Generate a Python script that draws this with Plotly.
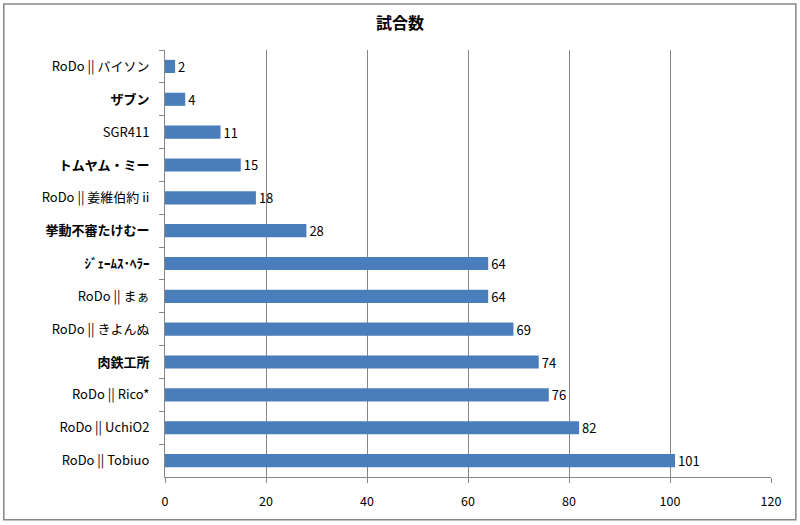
import plotly.graph_objects as go

categories = [
    "RoDo || バイソン", "<b>ザブン</b>", "SGR411", "<b>トムヤム・ミー</b>",
    "RoDo || 姜維伯約 ii", "<b>挙動不審たけむー</b>", "<b>ｼﾞｪｰﾑｽ･ﾍﾗｰ</b>",
    "RoDo || まぁ", "RoDo || きよんぬ", "<b>肉鉄工所</b>", "RoDo || Rico*",
    "RoDo || UchiO2", "RoDo || Tobiuo",
]
values = [2, 4, 11, 15, 18, 28, 64, 64, 69, 74, 76, 82, 101]
x_ticks = [0, 20, 40, 60, 80, 100, 120]

font_family = "Noto Sans CJK JP, Noto Sans, sans-serif"

fig = go.Figure(go.Bar(
    x=values, y=categories, orientation="h",
    marker=dict(color="#4A7EBB", line=dict(width=0)),
    text=[str(v) for v in values], textposition="outside",
    textfont=dict(size=13, color="#000000", family=font_family),
    constraintext="none",
    cliponaxis=False,
))

fig.update_layout(
    width=800, height=525,
    margin=dict(l=165, r=29, t=50, b=48),
    paper_bgcolor="white", plot_bgcolor="white",
    bargap=0.6,
    showlegend=False,
    title=dict(text="<b>試合数</b>", x=0.5, xanchor="center", y=0.955, yanchor="middle",
               font=dict(size=16, color="#000000", family=font_family)),
    font=dict(family=font_family, color="#000000"),
    xaxis=dict(
        range=[0, 120], tickvals=x_ticks, ticktext=[str(t) for t in x_ticks],
        showgrid=True, gridcolor="#868686", gridwidth=1,
        showline=True, linecolor="#868686", linewidth=1,
        ticks="outside", ticklen=5, tickcolor="#868686",
        ticklabelstandoff=8,
        tickfont=dict(size=12.5, family=font_family, color="#000000"),
        zeroline=False, fixedrange=True,
    ),
    yaxis=dict(
        autorange="reversed", type="category",
        showgrid=False, showline=True, linecolor="#868686", linewidth=1,
        ticks="outside", ticklen=5, tickcolor="#868686", tickson="boundaries",
        ticklabelstandoff=12,
        tickfont=dict(size=13, family=font_family, color="#000000"),
        fixedrange=True,
    ),
    shapes=[dict(type="rect", xref="paper", yref="paper",
                 x0=-0.266, x1=1.041, y0=-0.1, y1=1.108,
                 line=dict(color="#868686", width=1.5), fillcolor="rgba(0,0,0,0)",
                 layer="below")],
)

fig.write_html(
    "out.html",
    config={"displayModeBar": False},
    post_script="document.body.style.margin='0';document.body.style.padding='0';",
)
